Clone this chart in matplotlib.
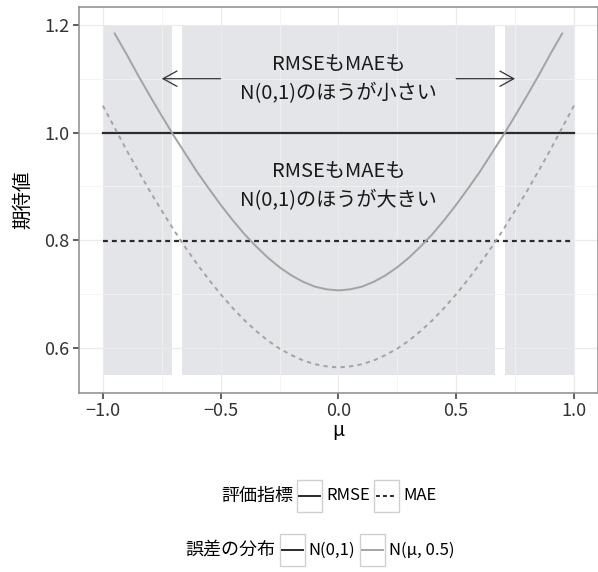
import numpy as np
import matplotlib.pyplot as plt
from matplotlib.patches import Rectangle
from matplotlib.lines import Line2D
from matplotlib.ticker import MultipleLocator
from matplotlib.offsetbox import AnchoredOffsetbox, DrawingArea, HPacker, TextArea

plt.rcParams['font.family'] = ['Noto Sans CJK JP', 'DejaVu Sans']

# μ の値と各期待値
mu = [-1.0, -0.95, -0.9, -0.85, -0.8, -0.75, -0.7, -0.65, -0.6, -0.55, -0.5,
      -0.45, -0.4, -0.35, -0.3, -0.25, -0.2, -0.15, -0.1, -0.05, 0.0,
      0.05, 0.1, 0.15, 0.2, 0.25, 0.3, 0.35, 0.4, 0.45, 0.5,
      0.55, 0.6, 0.65, 0.7, 0.75, 0.8, 0.85, 0.9, 0.95, 1.0]
rmse_nmu = [np.nan, 1.184, 1.146, 1.106, 1.068, 1.031, 0.995, 0.961, 0.927, 0.896, 0.866,
            0.838, 0.812, 0.789, 0.768, 0.750, 0.735, 0.723, 0.714, 0.709, 0.707,
            0.709, 0.714, 0.723, 0.735, 0.750, 0.768, 0.789, 0.812, 0.838, 0.866,
            0.896, 0.927, 0.961, 0.995, 1.031, 1.068, 1.106, 1.146, 1.184, np.nan]
mae_nmu = [1.050, 1.009, 0.968, 0.929, 0.891, 0.855, 0.820, 0.787, 0.756, 0.727, 0.700,
           0.675, 0.652, 0.632, 0.614, 0.599, 0.587, 0.577, 0.570, 0.566, 0.564,
           0.566, 0.570, 0.577, 0.587, 0.599, 0.614, 0.632, 0.652, 0.675, 0.700,
           0.727, 0.756, 0.787, 0.820, 0.855, 0.891, 0.929, 0.968, 1.009, 1.050]
mu_range = [-1.0, 1.0]
rmse_n01 = [1.0, 1.0]
mae_n01 = [0.798, 0.798]

# 背景の領域
region_lo = [-1.0, -0.666, 0.707]
region_hi = [-0.707, 0.666, 1.0]
region_bottom, region_top = 0.55, 1.2

notes = ['RMSEもMAEも\nN(0,1)のほうが小さい', 'RMSEもMAEも\nN(0,1)のほうが大きい']
note_y = [1.1, 0.9]

metric_labels = ['RMSE', 'MAE']
dist_labels = ['N(0,1)', 'N(μ, 0.5)']

black = '#2b2b2b'
grey = '#a3a3a3'

fig = plt.figure(figsize=(5.98, 5.72), dpi=100)
ax = fig.add_axes([0.1326, 0.3138, 0.8666, 0.6734])

for lo, hi in zip(region_lo, region_hi):
    ax.add_patch(Rectangle((lo, region_bottom), hi - lo, region_top - region_bottom,
                           facecolor='#e4e5e8', edgecolor='none', zorder=0.3))

ax.plot(mu_range, rmse_n01, color=black, lw=1.6, zorder=2)
ax.plot(mu_range, mae_n01, color=black, lw=1.6, ls=(0, (2.2, 1.8)), zorder=2)
ax.plot(mu, rmse_nmu, color=grey, lw=1.4, zorder=2)
ax.plot(mu, mae_nmu, color=grey, lw=1.4, ls=(0, (2.2, 2.2)), zorder=2)

for txt, y in zip(notes, note_y):
    ax.text(0, y, txt, ha='center', va='center', fontsize=14.5, linespacing=1.5, color='#1a1a1a')

arrow = dict(arrowstyle='->,head_length=1.0,head_width=0.55', lw=0.9, color='#333333',
             mutation_scale=10, shrinkA=0, shrinkB=0)
ax.annotate('', xy=(-0.75, 1.1), xytext=(-0.5, 1.1), arrowprops=arrow)
ax.annotate('', xy=(0.75, 1.1), xytext=(0.5, 1.1), arrowprops=arrow)

ax.set_xlim(-1.1, 1.1)
ax.set_ylim(0.5175, 1.2325)
ax.set_xticks([-1.0, -0.5, 0.0, 0.5, 1.0])
ax.set_yticks([0.6, 0.8, 1.0, 1.2])
ax.xaxis.set_minor_locator(MultipleLocator(0.25))
ax.yaxis.set_minor_locator(MultipleLocator(0.1))
ax.grid(which='major', color='#ebebeb', lw=0.9)
ax.grid(which='minor', color='#f2f2f2', lw=0.6)
ax.set_axisbelow(True)
ax.tick_params(which='major', length=4, width=1.1, color='#333333',
               labelsize=13, labelcolor='#333333', pad=3)
ax.tick_params(which='minor', length=0)
for sp in ax.spines.values():
    sp.set_color('#8c8c8c')
    sp.set_linewidth(1.1)

ax.set_xlabel('μ', fontsize=14, labelpad=0)
ax.set_ylabel('期待値', fontsize=14, labelpad=8)


def key_box(color, ls):
    da = DrawingArea(18, 23)
    da.add_artist(Rectangle((0, 0), 18, 23, facecolor='white', edgecolor='#d0d0d0', lw=1))
    da.add_artist(Line2D([1.5, 16.5], [11.5, 11.5], color=color, lw=1.4, ls=ls))
    return da


def legend_row(title, labels, colors, styles):
    kids = [TextArea(title, textprops=dict(fontsize=13))]
    for lab, c, s in zip(labels, colors, styles):
        kids.append(key_box(c, s))
        kids.append(TextArea(lab, textprops=dict(fontsize=12)))
    return HPacker(children=kids, align='center', pad=0, sep=3)


row1 = legend_row('評価指標', metric_labels, [black, black], ['-', (0, (2, 1.6))])
row2 = legend_row('誤差の分布', dist_labels, [black, grey], ['-', '-'])

for row, (cx, cy) in zip([row1, row2], [(0.55, 1 - 496 / 572), (0.535, 1 - 550 / 572)]):
    box = AnchoredOffsetbox(loc='center', child=row, pad=0, borderpad=0, frameon=False,
                            bbox_to_anchor=(cx, cy), bbox_transform=fig.transFigure)
    ax.add_artist(box)

fig.savefig('out.png', dpi=100)
